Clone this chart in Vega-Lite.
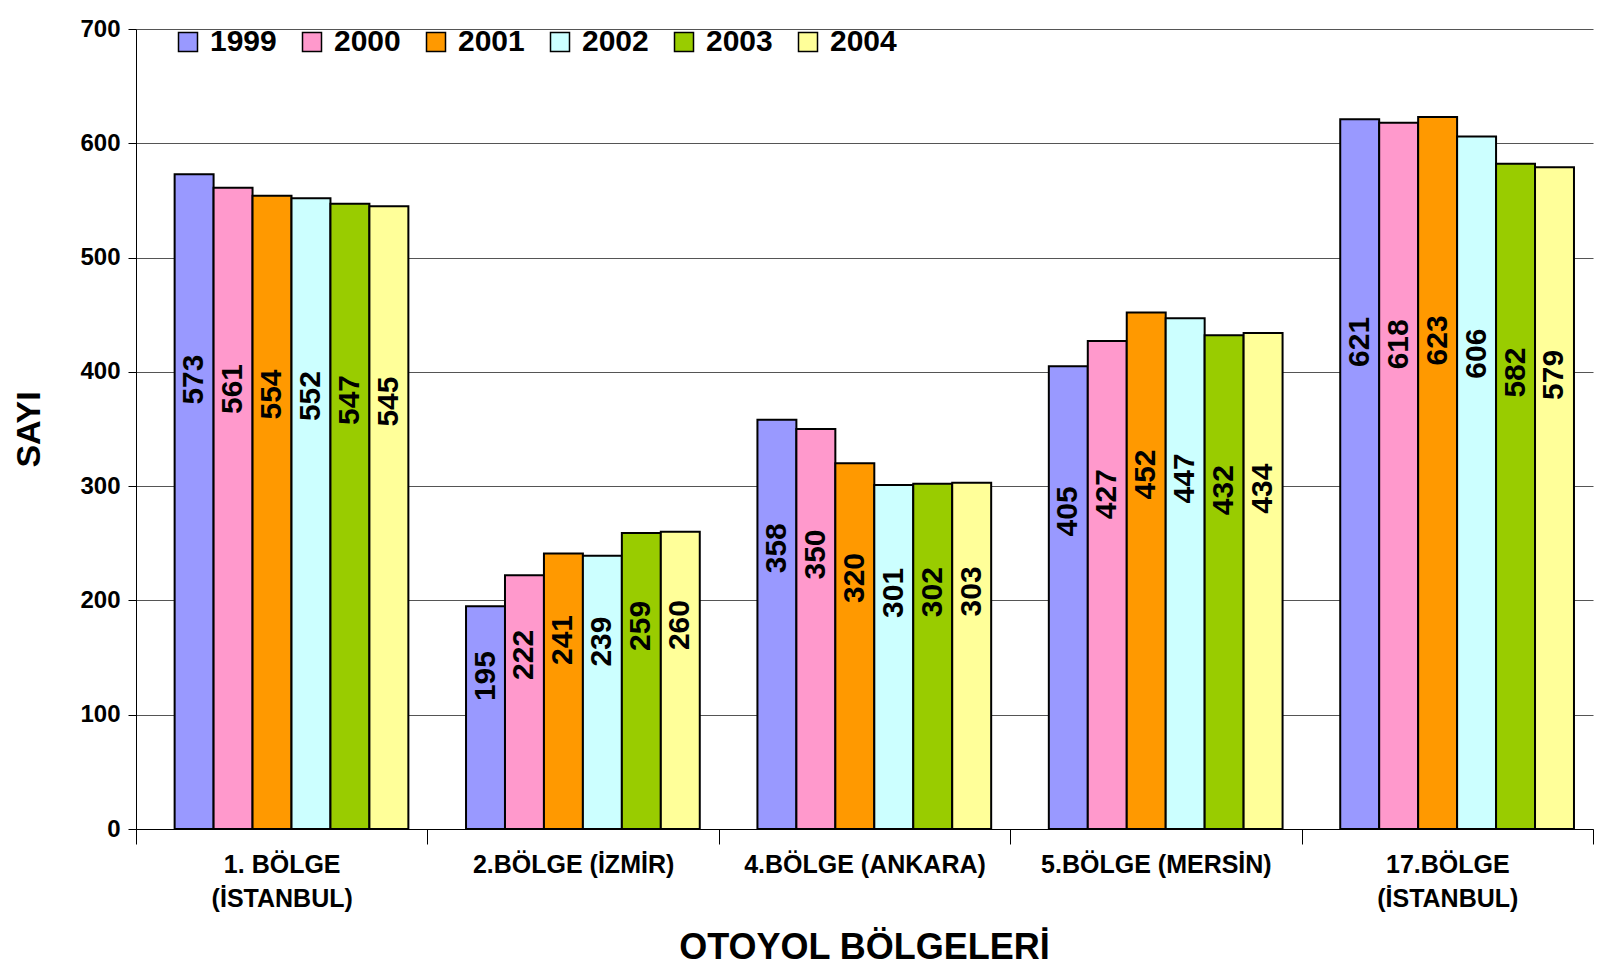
{
  "$schema": "https://vega.github.io/schema/vega-lite/v6.json",
  "width": 1457,
  "height": 800,
  "autosize": {"type": "none"},
  "padding": {"left": 136, "top": 29, "right": 18, "bottom": 142},
  "background": "white",
  "config": {"view": {"stroke": null}, "font": "Liberation Sans"},
  "data": {"values": [
    {"region": "1. BÖLGE|(İSTANBUL)", "year": "1999", "value": 573},
    {"region": "1. BÖLGE|(İSTANBUL)", "year": "2000", "value": 561},
    {"region": "1. BÖLGE|(İSTANBUL)", "year": "2001", "value": 554},
    {"region": "1. BÖLGE|(İSTANBUL)", "year": "2002", "value": 552},
    {"region": "1. BÖLGE|(İSTANBUL)", "year": "2003", "value": 547},
    {"region": "1. BÖLGE|(İSTANBUL)", "year": "2004", "value": 545},
    {"region": "2.BÖLGE  (İZMİR)", "year": "1999", "value": 195},
    {"region": "2.BÖLGE  (İZMİR)", "year": "2000", "value": 222},
    {"region": "2.BÖLGE  (İZMİR)", "year": "2001", "value": 241},
    {"region": "2.BÖLGE  (İZMİR)", "year": "2002", "value": 239},
    {"region": "2.BÖLGE  (İZMİR)", "year": "2003", "value": 259},
    {"region": "2.BÖLGE  (İZMİR)", "year": "2004", "value": 260},
    {"region": "4.BÖLGE  (ANKARA)", "year": "1999", "value": 358},
    {"region": "4.BÖLGE  (ANKARA)", "year": "2000", "value": 350},
    {"region": "4.BÖLGE  (ANKARA)", "year": "2001", "value": 320},
    {"region": "4.BÖLGE  (ANKARA)", "year": "2002", "value": 301},
    {"region": "4.BÖLGE  (ANKARA)", "year": "2003", "value": 302},
    {"region": "4.BÖLGE  (ANKARA)", "year": "2004", "value": 303},
    {"region": "5.BÖLGE  (MERSİN)", "year": "1999", "value": 405},
    {"region": "5.BÖLGE  (MERSİN)", "year": "2000", "value": 427},
    {"region": "5.BÖLGE  (MERSİN)", "year": "2001", "value": 452},
    {"region": "5.BÖLGE  (MERSİN)", "year": "2002", "value": 447},
    {"region": "5.BÖLGE  (MERSİN)", "year": "2003", "value": 432},
    {"region": "5.BÖLGE  (MERSİN)", "year": "2004", "value": 434},
    {"region": "17.BÖLGE|(İSTANBUL)", "year": "1999", "value": 621},
    {"region": "17.BÖLGE|(İSTANBUL)", "year": "2000", "value": 618},
    {"region": "17.BÖLGE|(İSTANBUL)", "year": "2001", "value": 623},
    {"region": "17.BÖLGE|(İSTANBUL)", "year": "2002", "value": 606},
    {"region": "17.BÖLGE|(İSTANBUL)", "year": "2003", "value": 582},
    {"region": "17.BÖLGE|(İSTANBUL)", "year": "2004", "value": 579}
  ]},
  "encoding": {
    "x": {
      "field": "region", "type": "nominal", "sort": null,
      "scale": {"paddingInner": 0, "paddingOuter": 0},
      "axis": {
        "title": "OTOYOL BÖLGELERİ", "titleFontSize": 36, "titleFontWeight": "bold", "titleColor": "black",
        "titleX": 728, "titleY": 118, "titleBaseline": "middle", "titleAlign": "center",
        "labelAngle": 0, "labelExpr": "split(datum.label, '|')", "labelLimit": 0,
        "labelFontSize": 25, "labelFontWeight": "bold", "labelColor": "black",
        "labelLineHeight": 34, "labelBaseline": "top", "labelPadding": 8,
        "tickSize": 15, "tickColor": "black", "tickBand": "extent",
        "domainColor": "black", "grid": false
      }
    },
    "xOffset": {"field": "year", "type": "nominal", "scale": {"paddingInner": 0, "paddingOuter": 0.74, "align": 0.67}}
  },
  "layer": [
    {
      "mark": {"type": "bar", "stroke": "black", "strokeWidth": 2},
      "encoding": {
        "y": {
          "field": "value", "type": "quantitative", "scale": {"domain": [0, 700]},
          "axis": {
            "values": [0, 100, 200, 300, 400, 500, 600, 700],
            "title": "SAYI", "titleFontSize": 34, "titleFontWeight": "bold", "titleColor": "black",
            "titleAngle": 270, "titleX": -107, "titleY": 400, "titleAlign": "center", "titleBaseline": "middle",
            "labelFontSize": 24, "labelFontWeight": "bold", "labelColor": "black",
            "tickColor": "black", "tickSize": 8, "labelPadding": 8, "domainColor": "black",
            "grid": true, "gridColor": "#555555", "gridWidth": 1.2
          }
        },
        "color": {
          "field": "year", "type": "nominal",
          "scale": {"range": ["#9999FF", "#FF99CC", "#FF9900", "#CCFFFF", "#99CC00", "#FFFF99"]},
          "legend": {
            "orient": "none", "legendX": 37, "legendY": -2, "direction": "horizontal", "title": null,
            "symbolType": "square", "symbolSize": 361, "symbolStrokeColor": "black", "symbolStrokeWidth": 1.5,
            "symbolOpacity": 1, "labelFontSize": 30, "labelFontWeight": "bold", "labelColor": "black",
            "labelOffset": 7, "columnPadding": 20, "padding": 0
          }
        }
      }
    },
    {
      "mark": {"type": "text", "angle": 270, "fontSize": 30, "fontWeight": "bold", "baseline": "middle", "align": "center", "color": "black"},
      "encoding": {
        "y": {"field": "value", "type": "quantitative", "scale": {"domain": [0, 1020]}, "axis": null},
        "text": {"field": "value", "type": "quantitative"}
      }
    }
  ],
  "resolve": {"scale": {"y": "independent"}}
}
